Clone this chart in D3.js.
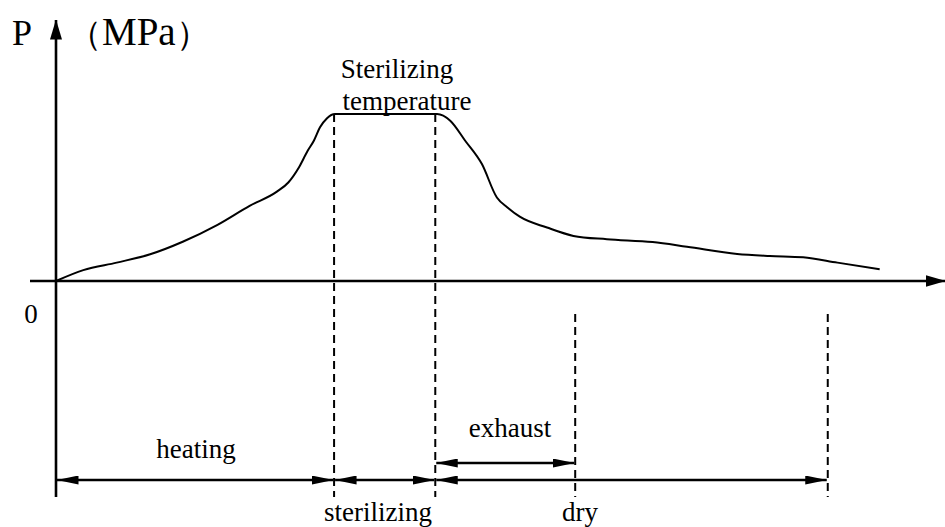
<!DOCTYPE html>
<html>
<head>
<meta charset="utf-8">
<script src="https://cdn.jsdelivr.net/npm/d3@7"></script>
<style>
  body { margin: 0; background: #fff; }
</style>
</head>
<body>
<svg id="chart" width="945" height="527"></svg>
<script>
// pressure curve, time in arbitrary units, pressure relative to sterilizing level
const curveTime = [0, 3.1, 6.9, 10.7, 14.4, 18.3, 22.0, 25.1, 26.4, 27.6, 28.6, 29.3, 30.0, 30.8, 31.7,
  43.3, 44.8, 46.5, 48.4, 50.1, 51.3, 52.7, 55.8, 58.8, 62.6, 67.8, 71.7, 77.4, 81.1, 84.9, 88.8, 93.6];
const curvePressure = [0, 0.065, 0.11, 0.16, 0.235, 0.335, 0.45, 0.535, 0.59, 0.68, 0.78, 0.84, 0.92, 0.975, 1.0,
  1.0, 0.96, 0.84, 0.70, 0.50, 0.44, 0.385, 0.32, 0.27, 0.25, 0.233, 0.205, 0.162, 0.15, 0.142, 0.11, 0.07];

// stage boundaries on the time axis
const stageNames = ["heating", "sterilizing", "exhaust", "dry"];
const stageStart = [0, 31.6, 43.1, 43.1];
const stageEnd = [31.6, 43.1, 59.0, 87.7];
const stageRow = [0, 0, 1, 0]; // 0 = lower arrow row, 1 = upper arrow row

const plateauLabel = ["Sterilizing", "temperature"];
const yAxisLabel = "P";
const unitLabel = ["（", "MPa", "）"];
const originLabel = "0";

const serif = "Liberation Serif";

const svg = d3.select("#chart");
const x0 = 56, y0 = 281;

const x = d3.scaleLinear().domain([0, 100]).range([x0, 936]);
const y = d3.scaleLinear().domain([0, 1]).range([y0, 114]);

const defs = svg.append("defs");
function marker(id, len, half) {
  defs.append("marker")
    .attr("id", id)
    .attr("viewBox", `0 ${-half} ${len} ${half * 2}`)
    .attr("refX", len - 0.5)
    .attr("refY", 0)
    .attr("markerUnits", "userSpaceOnUse")
    .attr("markerWidth", len)
    .attr("markerHeight", half * 2)
    .attr("orient", "auto-start-reverse")
    .append("path")
    .attr("d", `M0,${-half}L${len},0L0,${half}Z`)
    .attr("fill", "#000");
}
marker("axisHead", 20, 6);
marker("dimHead", 22, 4.5);

// axes
svg.append("line")
  .attr("x1", 30).attr("y1", y0).attr("x2", 945).attr("y2", y0)
  .attr("stroke", "#000").attr("stroke-width", 2.6)
  .attr("marker-end", "url(#axisHead)");
svg.append("line")
  .attr("x1", x0).attr("y1", 497).attr("x2", x0).attr("y2", 20)
  .attr("stroke", "#000").attr("stroke-width", 2.6)
  .attr("marker-end", "url(#axisHead)");

svg.append("text").attr("x", 12).attr("y", 45)
  .attr("font-family", serif).attr("font-size", 36).text(yAxisLabel);
const unit = svg.append("text").attr("x", 68).attr("y", 45)
  .attr("font-family", serif);
unit.append("tspan").attr("font-size", 34).text(unitLabel[0]);
unit.append("tspan").attr("font-size", 39).text(unitLabel[1]);
unit.append("tspan").attr("font-size", 34).text(unitLabel[2]);
svg.append("text").attr("x", 31).attr("y", 323)
  .attr("font-family", serif).attr("font-size", 27)
  .attr("text-anchor", "middle").text(originLabel);

// pressure curve
const pts = curveTime.map((t, i) => [t, curvePressure[i]]);
const line = d3.line()
  .x(d => x(d[0]))
  .y(d => y(d[1]))
  .curve(d3.curveMonotoneX);
svg.append("path")
  .attr("d", line(pts))
  .attr("fill", "none")
  .attr("stroke", "#000")
  .attr("stroke-width", 2);

// dashed stage boundaries
const rowY = [480, 463];
const dashBottom = 497;
const boundaries = [
  { t: stageEnd[0], top: y(1) },
  { t: stageEnd[1], top: y(1) },
  { t: stageEnd[2], top: 314 },
  { t: stageEnd[3], top: 314 }
];
svg.selectAll(".bound")
  .data(boundaries)
  .enter()
  .append("line")
  .attr("class", "bound")
  .attr("x1", d => x(d.t)).attr("x2", d => x(d.t))
  .attr("y1", d => d.top).attr("y2", dashBottom)
  .attr("stroke", "#000")
  .attr("stroke-width", 2)
  .attr("stroke-dasharray", "8,5");

// dimension arrows
const stages = stageNames.map((n, i) => ({ name: n, s: stageStart[i], e: stageEnd[i], row: stageRow[i] }));
svg.selectAll(".dim")
  .data(stages)
  .enter()
  .append("line")
  .attr("class", "dim")
  .attr("x1", d => x(d.s) + 1).attr("x2", d => x(d.e) - 1)
  .attr("y1", d => rowY[d.row]).attr("y2", d => rowY[d.row])
  .attr("stroke", "#000")
  .attr("stroke-width", 2.6)
  .attr("marker-start", "url(#dimHead)")
  .attr("marker-end", "url(#dimHead)");

// stage labels
const labelPos = {
  heating: { cx: 196, y: 458 },
  sterilizing: { cx: 378, y: 521 },
  exhaust: { cx: 510, y: 437 },
  dry: { cx: 580, y: 521 }
};
svg.selectAll(".stageLabel")
  .data(stages)
  .enter()
  .append("text")
  .attr("class", "stageLabel")
  .attr("x", d => labelPos[d.name].cx)
  .attr("y", d => labelPos[d.name].y)
  .attr("font-family", serif)
  .attr("font-size", 27)
  .attr("text-anchor", "middle")
  .text(d => d.name);

// plateau label
svg.append("text").attr("x", 397).attr("y", 78)
  .attr("font-family", serif).attr("font-size", 27)
  .attr("text-anchor", "middle").text(plateauLabel[0]);
svg.append("text").attr("x", 407).attr("y", 110)
  .attr("font-family", serif).attr("font-size", 27)
  .attr("text-anchor", "middle").text(plateauLabel[1]);
</script>
</body>
</html>
